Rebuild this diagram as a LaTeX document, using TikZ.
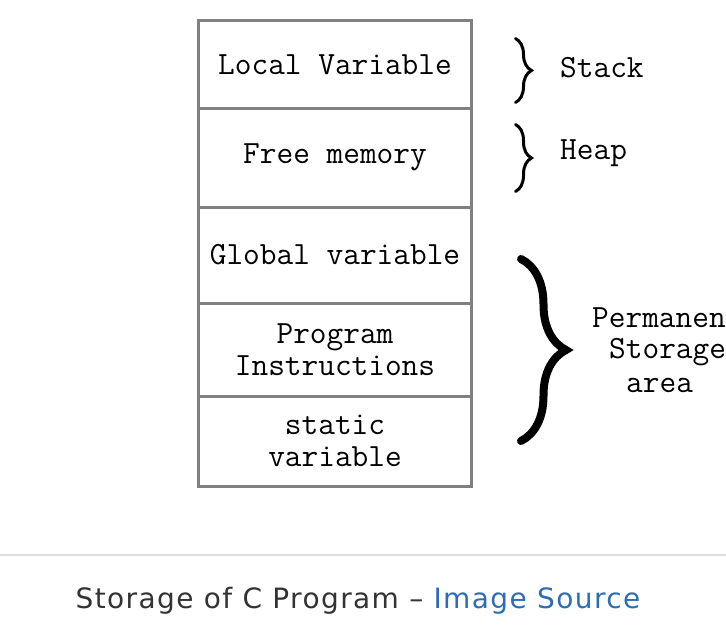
\documentclass[tikz,border=0pt]{standalone}
\usepackage{fontspec}
\newfontfamily\captionfont[LetterSpace=5]{DejaVu Sans}
\usetikzlibrary{positioning, decorations.pathreplacing}
\definecolor{cellgray}{HTML}{808080}
\definecolor{captiongray}{HTML}{333333}
\definecolor{linkblue}{HTML}{2D6DB5}
\definecolor{rulegray}{HTML}{DDDDDD}

\begin{document}
\begin{tikzpicture}[x=1pt, y=-1pt, node distance=0pt,
		cell/.style={draw=cellgray, line width=3pt, outer sep=0pt, inner sep=0pt, minimum width=273pt, align=center, font=\ttfamily\fontsize{32.4}{32}\selectfont},
		memlabel/.style={anchor=west, inner sep=0pt, font=\ttfamily\fontsize{32.4}{32}\selectfont},
		curly/.style={decorate, decoration={brace, amplitude=#1}, line cap=round, draw=black}]
		\clip (0,0) rectangle (726,640);
		\useasboundingbox (0,0) rectangle (726,640);
		
		% memory layout
		\node[cell, anchor=north, minimum height=87.5pt] (localvar) at (335,20.5) {Local Variable};
		\node[cell, minimum height=99pt, below = of localvar] (freemem) {Free memory};
		\node[cell, minimum height=96pt, below = of freemem] (globalvar) {Global variable};
		\node[cell, minimum height=93pt, below = of globalvar] (proginstr) {Program\\Instructions};
		\node[cell, minimum height=90.5pt, below = of proginstr] (staticvar) {static\\variable};
		
		% braces and region names
		\draw[curly=16pt, line width=3pt] (515.5,38.5) -- (515.5,102.5);
		\draw[curly=16pt, line width=3pt] (515.5,124.5) -- (515.5,191.5);
		\draw[curly=45pt, line width=8pt] (521,259) -- (521,441);
		
		\node[memlabel] (stack) at (560,68) {Stack};
		\node[memlabel] (heap) at (560,153) {Heap};
		\node[memlabel] (permanent) at (592,318) {Permanent};
		\node[memlabel] (storage) at (609,352) {Storage};
		\node[memlabel] (area) at (626,385) {area};
		
		% caption
		\coordinate (ruleL) at (0,555);
		\coordinate (ruleR) at (726,555);
		\draw[rulegray, line width=2pt] (ruleL) -- (ruleR);
		\node[font=\captionfont\fontsize{28}{34}\selectfont, text=captiongray] (caption) at (358,601) {Storage of C Program – \textcolor{linkblue}{Image Source}};
	\end{tikzpicture}
\end{document}
